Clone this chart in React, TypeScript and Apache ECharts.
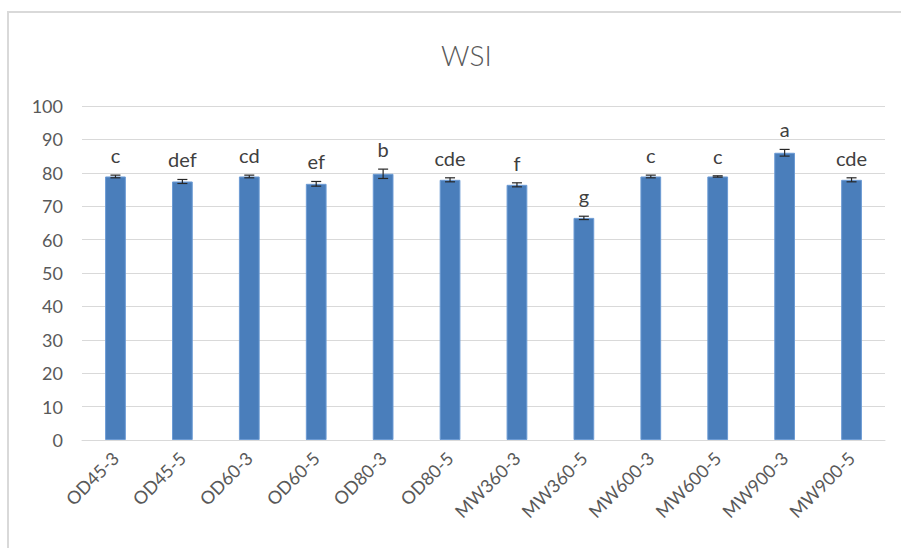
import React, { useEffect, useRef } from "react";
import * as echarts from "echarts";

const categories = ["OD45-3", "OD45-5", "OD60-3", "OD60-5", "OD80-3", "OD80-5", "MW360-3", "MW360-5", "MW600-3", "MW600-5", "MW900-3", "MW900-5"];
const means = [78.9, 77.4, 78.9, 76.7, 79.7, 77.9, 76.4, 66.5, 78.9, 78.9, 86.0, 77.9];
const errors = [0.4, 0.6, 0.4, 0.7, 1.4, 0.6, 0.6, 0.5, 0.4, 0.2, 1.0, 0.6];
const letters = ["c", "def", "cd", "ef", "b", "cde", "f", "g", "c", "c", "a", "cde"];

const FONT = "Lato, 'Open Sans', sans-serif";

export default function App() {
  const ref = useRef<HTMLDivElement>(null);
  useEffect(() => {
    if (!ref.current) return;
    const chart = echarts.init(ref.current, null, { renderer: "svg" });
    const errData = categories.map((_, i) => [i, means[i], errors[i], i]);
    chart.setOption({
      animation: false,
      backgroundColor: "#ffffff",
      title: {
        text: "WSI",
        left: 436,
        top: 36,
        textStyle: { fontFamily: FONT, fontSize: 28, fontWeight: 300, color: "#595959" },
      },
      graphic: [
        {
          type: "rect",
          shape: { x: 8, y: 12, width: 1000, height: 1000 },
          style: { fill: "none", stroke: "#d9d9d9", lineWidth: 2 },
          silent: true,
        },
      ],
      grid: { left: 82, right: 16, top: 106, bottom: 108, containLabel: false },
      xAxis: {
        type: "category",
        data: categories,
        axisLine: { lineStyle: { color: "#d9d9d9", width: 1 } },
        axisTick: { show: false },
        axisLabel: { rotate: 45, interval: 0, margin: 15, fontFamily: FONT, fontSize: 18, color: "#595959" },
      },
      yAxis: {
        type: "value",
        min: 0,
        max: 100,
        interval: 10,
        axisLine: { show: false },
        axisTick: { show: false },
        splitLine: { lineStyle: { color: "#d9d9d9", width: 1 } },
        axisLabel: { margin: 19, fontFamily: FONT, fontSize: 18, color: "#595959" },
      },
      series: [
        {
          type: "bar",
          data: means,
          barWidth: "31%",
          itemStyle: { color: "#4a7ebb", borderColor: "#6c9bd4", borderWidth: 1 },
        },
        {
          type: "custom",
          data: errData,
          z: 5,
          renderItem: (params: any, api: any) => {
            const i = api.value(0);
            const m = api.value(1);
            const e = api.value(2);
            const top = api.coord([i, m + e]);
            const bot = api.coord([i, m - e]);
            const hw = 5;
            const stroke = { stroke: "#262626", lineWidth: 1.2 };
            return {
              type: "group",
              children: [
                { type: "line", shape: { x1: top[0], y1: top[1], x2: bot[0], y2: bot[1] }, style: stroke },
                { type: "line", shape: { x1: top[0] - hw, y1: top[1], x2: top[0] + hw, y2: top[1] }, style: stroke },
                { type: "line", shape: { x1: bot[0] - hw, y1: bot[1], x2: bot[0] + hw, y2: bot[1] }, style: stroke },
                {
                  type: "text",
                  x: top[0],
                  y: top[1] - 10,
                  style: {
                    text: letters[api.value(3)],
                    fill: "#404040",
                    font: `20px ${FONT}`,
                    textAlign: "center",
                    verticalAlign: "bottom",
                    textVerticalAlign: "bottom",
                  },
                },
              ],
            };
          },
        },
      ],
    });
    return () => chart.dispose();
  }, []);
  return <div ref={ref} style={{ position: "fixed", left: 0, top: 0, width: 901, height: 548 }} />;
}
